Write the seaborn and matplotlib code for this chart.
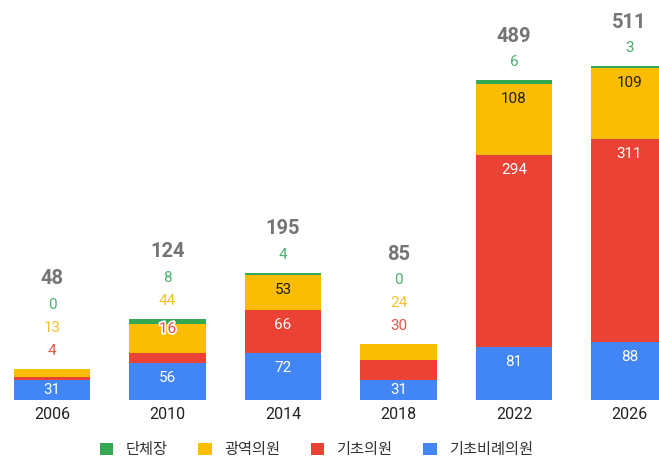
import matplotlib
matplotlib.use('Agg')
import pandas as pd
import matplotlib.pyplot as plt
import matplotlib.patheffects as pe
import seaborn as sns
from matplotlib.patches import Patch

years = ['2006', '2010', '2014', '2018', '2022', '2026']
dancheja = [0, 8, 4, 0, 6, 3]            # 단체장
gwangyeok = [13, 44, 53, 24, 108, 109]   # 광역의원
gicho = [4, 16, 66, 30, 294, 311]        # 기초의원
birye = [31, 56, 72, 31, 81, 88]         # 기초비례의원

names = ['단체장', '광역의원', '기초의원', '기초비례의원']
colors = ['#34A853', '#FBBC04', '#EA4335', '#4285F4']
label_colors = ['#4CAF6E', '#F2C230', '#E0574A', '#FFFFFF']
inner_text = ['#FFFFFF', '#202020', '#FFFFFF', '#FFFFFF']

sns.set_style('white')
plt.rcParams['font.family'] = ['Roboto', 'Noto Sans CJK KR', 'DejaVu Sans']

df = pd.DataFrame({'year': years, 'birye': birye, 'gicho': gicho,
                   'gwangyeok': gwangyeok, 'dancheja': dancheja})
df['c_blue'] = df['birye']
df['c_red'] = df['c_blue'] + df['gicho']
df['c_yellow'] = df['c_red'] + df['gwangyeok']
df['c_green'] = df['c_yellow'] + df['dancheja']

fig = plt.figure(figsize=(6.59, 4.66), dpi=100)
ax = fig.add_axes([0, 66 / 466, 1, 400 / 466])

# draw cumulative layers, tallest first
for col, c in zip(['c_green', 'c_yellow', 'c_red', 'c_blue'], colors):
    sns.barplot(data=df, x='year', y=col, color=c, width=0.66,
                saturation=1, ax=ax, linewidth=0)

ax.set_xlim(-0.45, 5.255)
ax.set_ylim(0, 612)
sns.despine(ax=ax, left=True, bottom=True)
ax.set_yticks([])
ax.set_xlabel('')
ax.set_ylabel('')
ax.tick_params(axis='x', length=0, pad=5, labelsize=11.5, labelcolor='#222222')

outline = [pe.withStroke(linewidth=2.5, foreground='white')]

for i, yr in enumerate(years):
    vals_bottom_up = [birye[i], gicho[i], gwangyeok[i], dancheja[i]]
    cols_bottom_up = [3, 2, 1, 0]
    base = 0
    above = []
    for v, k in zip(vals_bottom_up, cols_bottom_up):
        top = base + v
        if k == 3 or v >= 50:
            ax.annotate(str(v), (i, top), xytext=(0, -min(15, v * 0.654 / 2)),
                        textcoords='offset pixels', ha='center', va='center',
                        fontsize=11, color=inner_text[k])
        elif yr == '2010' and k == 2:
            ax.annotate(str(v), (i, top), xytext=(0, 24), textcoords='offset pixels',
                        ha='center', va='center', fontsize=11, color='#E0574A',
                        path_effects=outline)
        else:
            above.append((v, k))
        base = top
    total = base
    off = 18
    for v, k in above:
        ax.annotate(str(v), (i, total), xytext=(0, off), textcoords='offset pixels',
                    ha='center', va='center', fontsize=11, color=label_colors[k])
        off += 23
    ax.annotate(str(total), (i, total), xytext=(0, off + 3), textcoords='offset pixels',
                ha='center', va='center', fontsize=14.5, fontweight='bold',
                color='#757575')

handles = [Patch(facecolor=c, edgecolor='none') for c in colors]
fig.legend(handles, names, loc='center', bbox_to_anchor=(0.48, 16 / 466), ncol=4,
           frameon=False, fontsize=11, handlelength=0.9, handleheight=0.9,
           handletextpad=0.8, columnspacing=2.0, labelcolor='#333333')

fig.savefig('out.png', dpi=100)
